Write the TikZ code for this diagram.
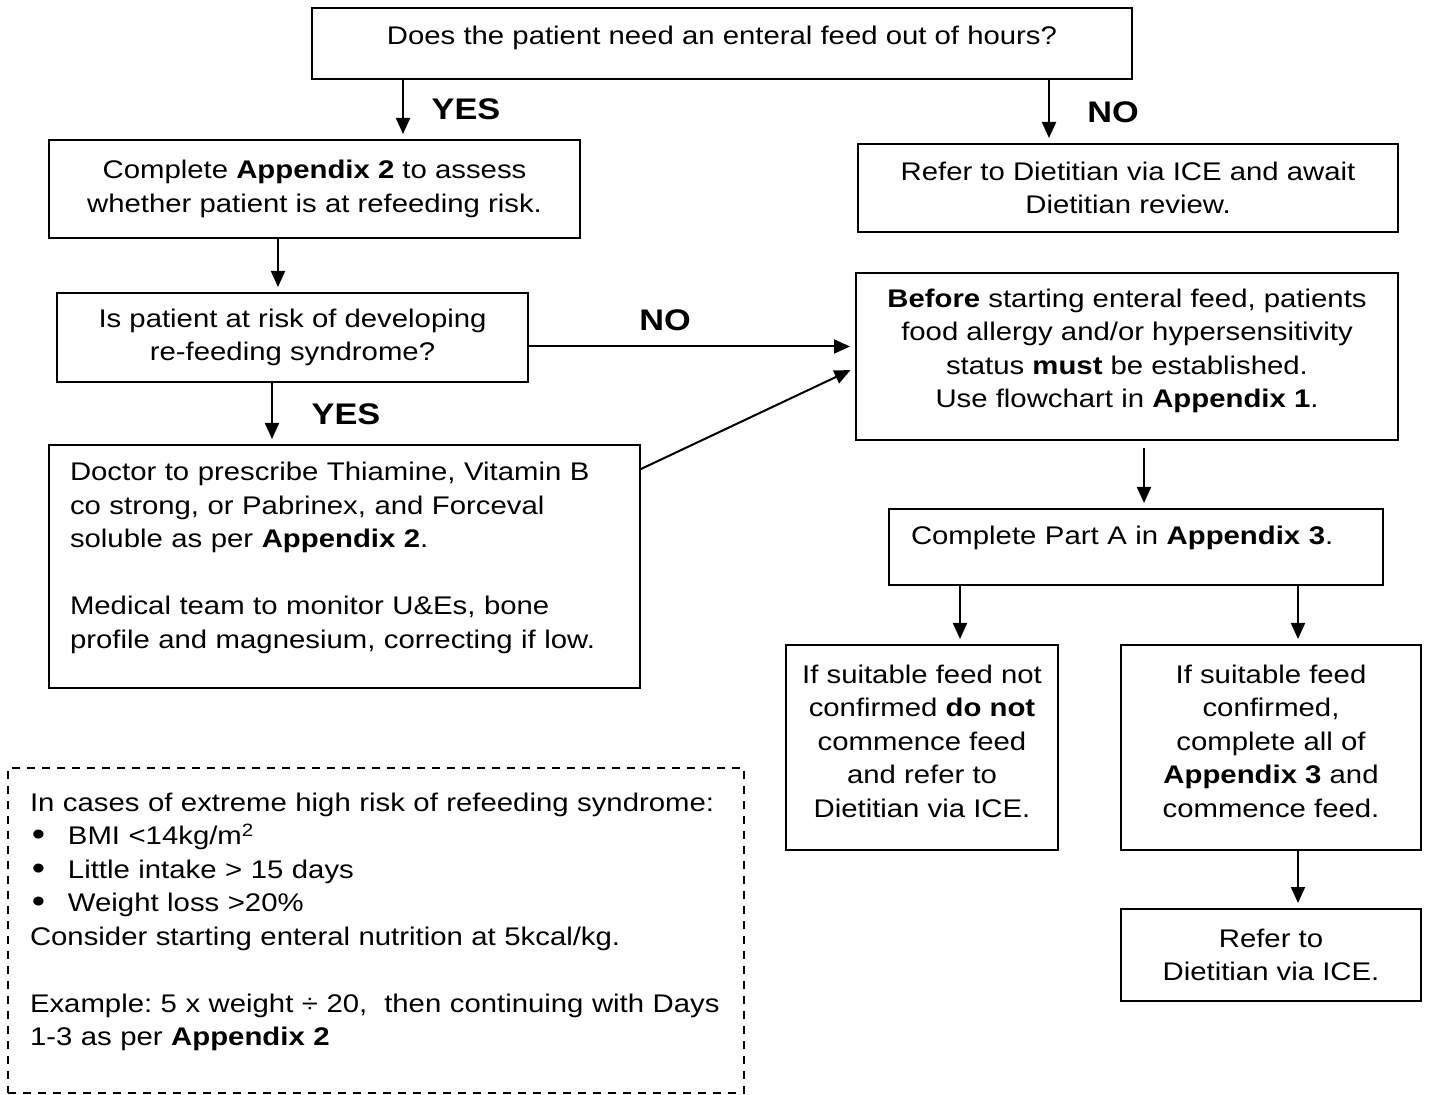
\documentclass[tikz,border=0pt]{standalone}
\usepackage{fontspec}
\setmainfont{Liberation Sans}[FakeStretch=1.15]
\usetikzlibrary{arrows.meta}

\newcommand{\vpad}[1]{\rule[-#1]{0pt}{#1}}
\newcommand{\bul}{\makebox[19pt][l]{\hspace{1pt}\raisebox{-0.5pt}{\fontsize{16.5}{16.75}\selectfont\textbullet}}}

\tikzset{
    box/.style={draw, line width=1pt, inner sep=0pt, align=center,
        font=\fontsize{12.75}{16.75}\selectfont\frenchspacing},
    arr/.style={-{Triangle[length=8pt,width=7pt]}, line width=1pt, shorten >=2.5pt},
    lbl/.style={inner sep=0pt, font=\fontsize{14.9}{18}\selectfont\bfseries}
}

\begin{document}
\begin{tikzpicture}[x=0.5pt, y=-0.5pt]
        \useasboundingbox (0, 0) rectangle (1429, 1095);

        % boxes
        \node[box, minimum width=410pt, minimum height=35.5pt] (q1) at (722, 43.5)
            {Does the patient need an enteral feed out of hours?\vpad{8.5pt}};
        \node[box, minimum width=265.5pt, minimum height=49pt] (app) at (314.5, 189)
            {Complete \textbf{Appendix 2} to assess\\ whether patient is at refeeding risk.};
        \node[box, minimum width=270pt, minimum height=44pt] (ref) at (1128, 188)
            {Refer to Dietitian via ICE and await\\ Dietitian review.};
        \node[box, minimum width=235.5pt, minimum height=44.5pt] (risk) at (292.5, 337.5)
            {Is patient at risk of developing\\ re-feeding syndrome?};
        \node[box, align=left, text width=274.5pt, minimum width=295.5pt, minimum height=121.5pt] (doc) at (344.5, 566.5)
            {Doctor to prescribe Thiamine, Vitamin B\\ co strong, or Pabrinex, and Forceval\\ soluble as per \textbf{Appendix 2}.\\[16.75pt]
             Medical team to monitor U\&Es, bone\\ profile and magnesium, correcting if low.\vpad{11pt}};
        \node[box, minimum width=271pt, minimum height=83.5pt] (bef) at (1127, 356.5)
            {\textbf{Before} starting enteral feed, patients\\ food allergy and/or hypersensitivity\\ status \textbf{must} be established.\\ Use flowchart in \textbf{Appendix 1}.\vpad{8pt}};
        \node[box, align=left, text width=225pt, minimum width=247pt, minimum height=38pt] (parta) at (1136, 547)
            {Complete Part A in \textbf{Appendix 3}.\vpad{12pt}};
        \node[box, minimum width=136pt, minimum height=102.5pt] (notc) at (922, 747.5)
            {If suitable feed not\\ confirmed \textbf{do not}\\ commence feed\\ and refer to\\ Dietitian via ICE.\vpad{6.5pt}};
        \node[box, minimum width=150pt, minimum height=102.5pt] (conf) at (1271, 747.5)
            {If suitable feed\\ confirmed,\\ complete all of\\ \textbf{Appendix 3} and\\ commence feed.\vpad{6.5pt}};
        \node[box, minimum width=150pt, minimum height=46pt] (ref2) at (1271, 955)
            {Refer to\\ Dietitian via ICE.};
        \node[box, dash pattern=on 4pt off 3.5pt, align=left, text width=346pt, minimum width=368pt, minimum height=162.5pt] (note) at (376, 930.5)
            {In cases of extreme high risk of refeeding syndrome:\\
             \bul BMI <14kg/m\textsuperscript{2}\\
             \bul Little intake > 15 days\\
             \bul Weight loss >20\%\\
             Consider starting enteral nutrition at 5kcal/kg.\\[16.75pt]
             \mbox{Example: 5 x weight ÷ 20,\ \ then continuing with Days}\\
             1-3 as per \textbf{Appendix 2}\vpad{11pt}};

        % labels
        \node[lbl] (yes1) at (466, 109) {YES};
        \node[lbl] (no1) at (1113, 112) {NO};
        \node[lbl] (no2) at (665, 320) {NO};
        \node[lbl] (yes2) at (346, 414) {YES};

        % arrows
        \coordinate (yesTop) at ([xshift=-159.5pt]q1.south);
        \coordinate (noTop) at ([xshift=163.5pt]q1.south);
        \coordinate (appOut) at ([xshift=-18.25pt]app.south);
        \coordinate (riskOut) at ([xshift=-10.25pt]risk.south);
        \coordinate (riskNo) at ([yshift=-4.5pt]risk.east);
        \coordinate (befOut) at ([xshift=8.5pt]bef.south);
        \coordinate (partL) at ([xshift=-88pt]parta.south);
        \coordinate (partR) at ([xshift=81pt]parta.south);
        \coordinate (confOut) at ([xshift=13.5pt]conf.south);

        \draw[arr] (yesTop) -- (yesTop |- app.north);
        \draw[arr] (noTop) -- (noTop |- ref.north);
        \draw[arr] (appOut) -- (appOut |- risk.north);
        \draw[arr] (riskOut) -- (riskOut |- doc.north);
        \draw[arr] (riskNo) -- (riskNo -| bef.west);
        \draw[arr] ([yshift=-12.5pt]doc.north east) -- ([yshift=-5.75pt]bef.west);
        \draw[arr, shorten <=3.5pt] (befOut) -- (befOut |- parta.north);
        \draw[arr] (partL) -- (partL |- notc.north);
        \draw[arr] (partR) -- (partR |- conf.north);
        \draw[arr] (confOut) -- (confOut |- ref2.north);
\end{tikzpicture}
\end{document}
